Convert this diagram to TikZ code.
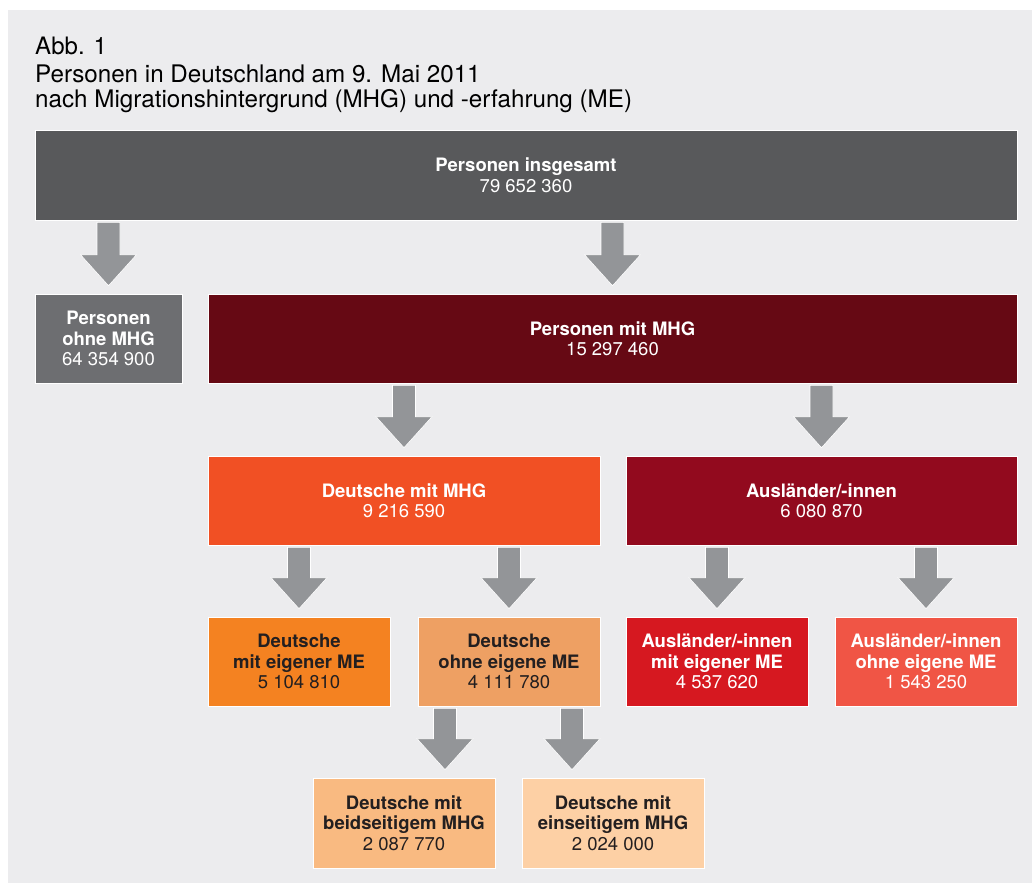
\documentclass[tikz,border=0pt]{standalone}
\usepackage{fontspec}
\setmainfont{TeX Gyre Heros}
\usepackage{tikz}
\usetikzlibrary{calc}

\definecolor{panelgray}{HTML}{ECECEE}
\definecolor{arrowgray}{HTML}{939598}
\definecolor{textdark}{HTML}{231F20}
\definecolor{allgray}{HTML}{58595B}
\definecolor{ohnegray}{HTML}{6D6E71}
\definecolor{mitred}{HTML}{660914}
\definecolor{deuorange}{HTML}{F15024}
\definecolor{ausred}{HTML}{920A1E}
\definecolor{deume}{HTML}{F48221}
\definecolor{deuohne}{HTML}{EEA063}
\definecolor{ausme}{HTML}{D61820}
\definecolor{ausohne}{HTML}{F05545}
\definecolor{deubeid}{HTML}{F9BA81}
\definecolor{deuein}{HTML}{FDD0A5}

% block arrow from the bottom of #2 down to the top of #3, shifted by #1
\newcommand{\fatarrow}[3][0]{%
  \path ($(#3.north |- #2.south)+(#1,-2)$) coordinate (fa-s)
        ($(#3.north)+(#1,8)$) coordinate (fa-e);
  \filldraw[blockarrow] ($(fa-s)+(-11.5,0)$) -- ($(fa-s)+(11.5,0)$)
    -- ($(fa-e)+(11.5,31)$) -- ($(fa-e)+(28,31)$) -- (fa-e)
    -- ($(fa-e)+(-28,31)$) -- ($(fa-e)+(-11.5,31)$) -- cycle;}

\begin{document}
\begin{tikzpicture}[x=1pt,y=1pt]
      \tikzstyle{box} = [draw=white,line width=0.6pt,inner sep=0pt,minimum height=89,align=center,font=\fontsize{18.5}{20.5}\selectfont]
      \tikzstyle{onlight} = [box,text=textdark]
      \tikzstyle{ondark} = [box,text=white]
      \tikzstyle{blockarrow} = [fill=arrowgray,draw=white,line width=0.6pt]
      %
      \useasboundingbox (0,0) rectangle (1032,-883);
      \fill[panelgray] (8,-10) rectangle (1032,-883);

      % Title.
      \node[anchor=base west,inner sep=0pt,font=\fontsize{24}{27}\selectfont] (abb) at (35,-55) {Abb. 1};
      \node[anchor=base west,inner sep=0pt,font=\fontsize{24.2}{25}\selectfont] (title1) at (35,-82) {Personen in Deutschland am 9. Mai 2011};
      \node[anchor=base west,inner sep=0pt,font=\fontsize{24.2}{25}\selectfont] (title2) at (35,-107) {nach Migrationshintergrund (MHG) und -erfahrung (ME)};

      % First row.
      \node[ondark,fill=allgray,minimum width=982,minimum height=90] (all) at (526,-175)
        {\textbf{Personen insgesamt}\\79 652 360};

      % Second row.
      \node[ondark,fill=ohnegray,minimum width=147] (pohne) at (108.5,-338.5)
        {\textbf{Personen}\\\textbf{ohne MHG}\\64 354 900};
      \node[ondark,fill=mitred,minimum width=809] (pmit) at (612.5,-338.5)
        {\textbf{Personen mit MHG}\\15 297 460};

      % Third row.
      \node[ondark,fill=deuorange,minimum width=392] (dmit) at (404,-500.5)
        {\textbf{Deutsche mit MHG}\\9 216 590};
      \node[ondark,fill=ausred,minimum width=391] (aus) at (821.5,-500.5)
        {\textbf{Ausländer/-innen}\\6 080 870};

      % Fourth row.
      \node[onlight,fill=deume,minimum width=182] (dme) at (299,-661.5)
        {\textbf{Deutsche}\\\textbf{mit eigener ME}\\5 104 810};
      \node[onlight,fill=deuohne,minimum width=182] (dohne) at (509,-661.5)
        {\textbf{Deutsche}\\\textbf{ohne eigene ME}\\4 111 780};
      \node[ondark,fill=ausme,minimum width=182] (ame) at (717,-661.5)
        {\textbf{Ausländer/-innen}\\\textbf{mit eigener ME}\\4 537 620};
      \node[ondark,fill=ausohne,minimum width=182] (aohne) at (926,-661.5)
        {\textbf{Ausländer/-innen}\\\textbf{ohne eigene ME}\\1 543 250};

      % Fifth row.
      \node[onlight,fill=deubeid,minimum width=182,minimum height=90] (dbeid) at (404,-823)
        {\textbf{Deutsche mit}\\\textbf{beidseitigem MHG}\\2 087 770};
      \node[onlight,fill=deuein,minimum width=182,minimum height=90] (dein) at (613,-823)
        {\textbf{Deutsche mit}\\\textbf{einseitigem MHG}\\2 024 000};

      % Arrows.
      \fatarrow{all}{pohne}
      \fatarrow{all}{pmit}
      \fatarrow{pmit}{dmit}
      \fatarrow{pmit}{aus}
      \fatarrow{dmit}{dme}
      \fatarrow{dmit}{dohne}
      \fatarrow{aus}{ame}
      \fatarrow{aus}{aohne}
      \fatarrow[41]{dohne}{dbeid}
      \fatarrow[-41]{dohne}{dein}
      %
\end{tikzpicture}
\end{document}
